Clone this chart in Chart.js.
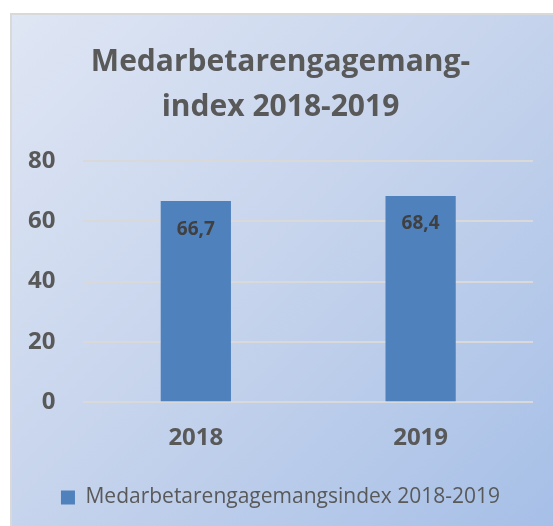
<!DOCTYPE html>
<html>
<head>
<meta charset="utf-8">
<script src="https://cdn.jsdelivr.net/npm/chart.js@4"></script>
<style>
  html, body { margin: 0; padding: 0; background: #ffffff; overflow: hidden; }
  #box {
    position: absolute; left: 10px; top: 13px;
    width: 545px; height: 515px;
    border-left: 2px solid #d9d9d9; border-top: 2px solid #d9d9d9;
    background: linear-gradient(135deg, #dfe6f4 0%, #c5d3ec 50%, #a6bfe7 100%);
  }
  #wrap { position: absolute; left: 0; top: 0; width: 543px; height: 513px; }
</style>
</head>
<body>
<div id="box"><div id="wrap"><canvas id="chart"></canvas></div></div>
<script>
// data
const categories = ["2018", "2019"];
const seriesName = "Medarbetarengagemangsindex 2018-2019";
const values = [66.7, 68.4];
const titleLines = ["Medarbetarengagemang-", "index 2018-2019"];

const FONT = "'Open Sans', 'Noto Sans', sans-serif";
const GRAY = "#595959";
const Y_PAD = 28;

// labels inside top of bars, decimal comma
const barLabels = {
  id: "barLabels",
  afterDatasetsDraw(chart) {
    const ctx = chart.ctx;
    const meta = chart.getDatasetMeta(0);
    ctx.save();
    ctx.font = "bold 19px " + FONT;
    ctx.fillStyle = "#404040";
    ctx.textAlign = "center";
    ctx.textBaseline = "middle";
    meta.data.forEach((bar, i) => {
      const txt = values[i].toFixed(1).replace(".", ",");
      ctx.fillText(txt, bar.x, bar.y + 28);
    });
    ctx.restore();
  }
};

new Chart(document.getElementById("chart"), {
  type: "bar",
  data: {
    labels: categories,
    datasets: [{
      label: seriesName,
      data: values,
      backgroundColor: "#4f81bd",
      borderColor: "#4f81bd",
      borderWidth: 0,
      barPercentage: 0.625,
      categoryPercentage: 0.5
    }]
  },
  options: {
    responsive: true,
    maintainAspectRatio: false,
    animation: false,
    layout: { padding: { left: 16, right: 22, top: 25, bottom: 10 } },
    scales: {
      x: {
        grid: { display: false, drawTicks: false },
        border: { display: false },
        ticks: { color: GRAY, font: { family: FONT, size: 24, weight: "bold" }, padding: 22 }
      },
      y: {
        min: 0, max: 80,
        grid: { color: "#d9d9d9", lineWidth: 2, drawTicks: false },
        border: { display: false },
        ticks: { stepSize: 20, color: GRAY, font: { family: FONT, size: 24, weight: "bold" }, padding: Y_PAD },
        // chart.js counts tick padding twice for vertical axes
        afterFit(scale) { scale.width -= Y_PAD; }
      }
    },
    plugins: {
      title: {
        display: true,
        text: titleLines,
        color: GRAY,
        font: { family: FONT, size: 30, weight: "bold", lineHeight: 1.5 },
        padding: { top: 0, bottom: 31 }
      },
      legend: {
        position: "bottom",
        labels: {
          color: GRAY,
          font: { family: FONT, size: 21 },
          boxWidth: 14, boxHeight: 14,
          padding: 12
        }
      },
      tooltip: { enabled: false }
    }
  },
  plugins: [barLabels]
});
</script>
</body>
</html>
